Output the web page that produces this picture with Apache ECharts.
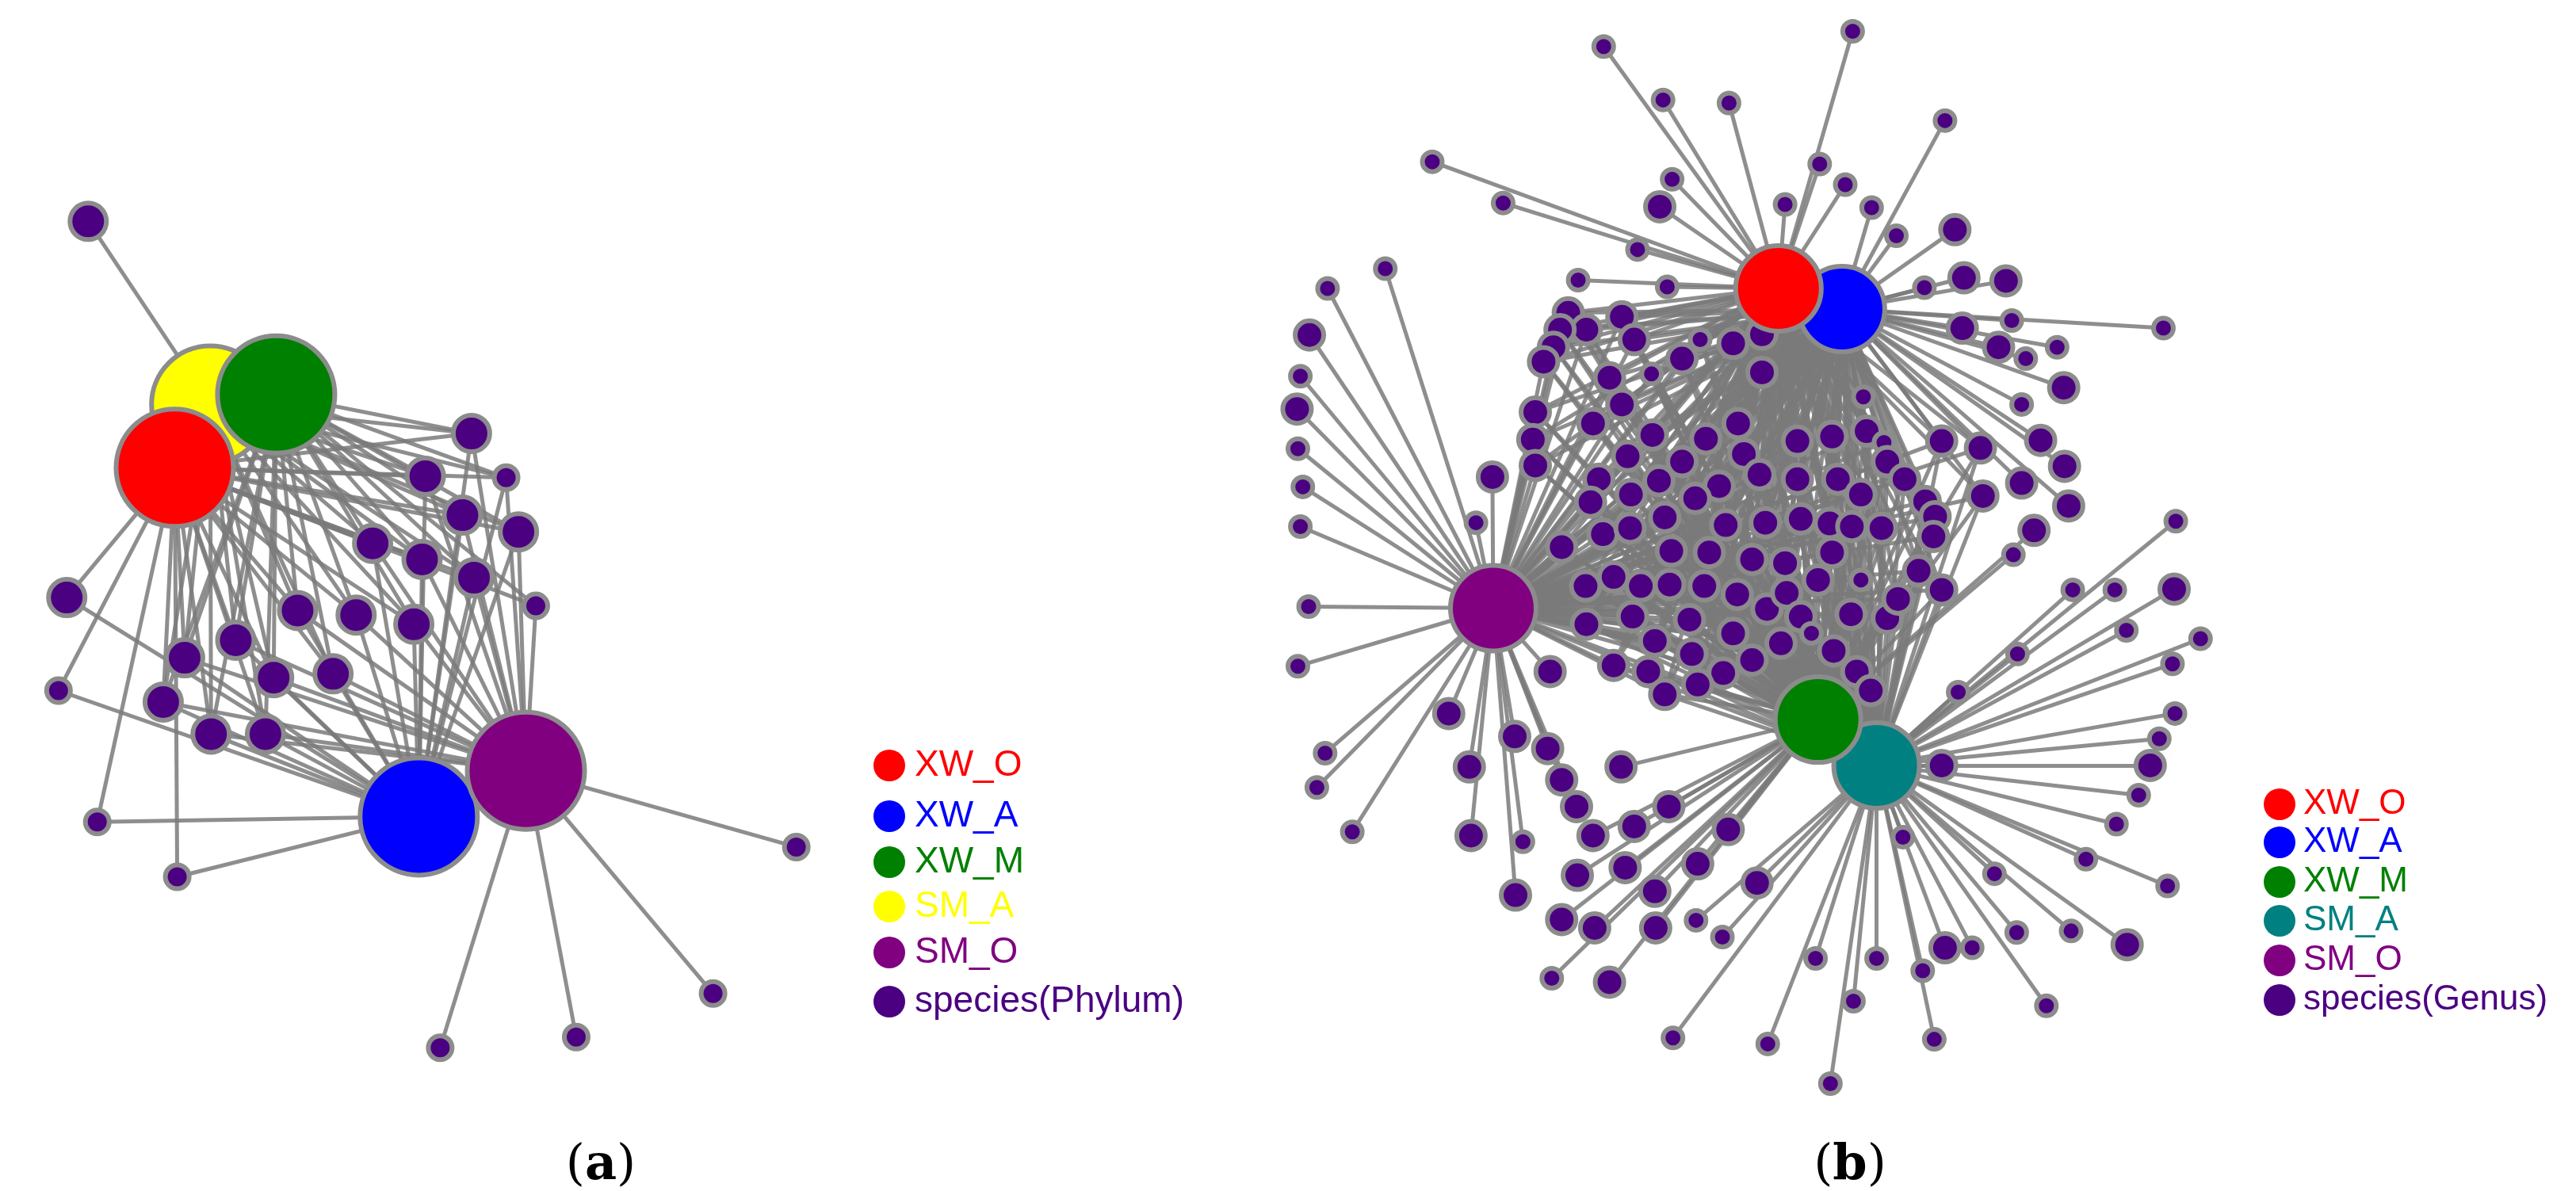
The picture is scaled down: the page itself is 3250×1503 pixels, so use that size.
<!DOCTYPE html>
<html>
<head>
<meta charset="utf-8">
<script src="https://cdn.jsdelivr.net/npm/echarts@6/dist/echarts.min.js"></script>
<style>html,body{margin:0;padding:0;background:#fff}#chart{width:3250px;height:1503px}</style>
</head>
<body>
<div id="chart"></div>
<script>
// 坐标按参考图读数（面板局部坐标），渲染时换算
const SCALE_X = 1.04;
const SCALE_Y = 0.963;
const OFFSET_B = 1625;

const speciesColor = '#4b0082';

// 面板(a) 中心节点 [name, x, y, key]
const hubsA = [
  ['SM_A', 255, 530, 'Y'],
  ['XW_M', 335, 517, 'G'],
  ['XW_O', 212, 613, 'R'],
  ['XW_A', 508, 1070, 'B'],
  ['SM_O', 638, 1010, 'P']
];
// 面板(a) 物种节点 [x, y, big, 连接的中心]
const speciesA = [
  [107, 290, 1, 'Y'], [572, 568, 1, 'YGRBP'], [614, 626, 0, 'YGRBP'], [516, 624, 1, 'YGRBP'],
  [561, 675, 1, 'YGRBP'], [629, 697, 1, 'YGRBP'], [452, 712, 1, 'YGRBP'], [512, 733, 1, 'YGRBP'],
  [575, 757, 1, 'YGRBP'], [650, 794, 0, 'GRP'], [81, 783, 1, 'RB'], [361, 800, 1, 'YGRBP'],
  [432, 806, 1, 'YGRBP'], [502, 818, 1, 'YGRBP'], [286, 839, 1, 'YGRBP'], [224, 862, 1, 'YGRBP'],
  [71, 905, 0, 'RB'], [332, 888, 1, 'YGRBP'], [404, 883, 1, 'YGRBP'], [198, 920, 1, 'YGRBP'],
  [256, 962, 1, 'YGRBP'], [322, 962, 1, 'YGRBP'], [118, 1077, 0, 'RB'], [215, 1149, 0, 'RB'],
  [966, 1110, 0, 'P'], [865, 1302, 0, 'P'], [699, 1359, 0, 'P'], [534, 1373, 0, 'P']
];

// 面板(b) 中心节点
const hubsB = [
  ['XW_A', 672, 405, 'B'],
  ['XW_O', 595, 378, 'R'],
  ['SM_A', 714, 1003, 'T'],
  ['XW_M', 643, 943, 'G'],
  ['SM_O', 249, 797, 'P']
];
// 面板(b) 外围物种 [x, y, big]
const outerB = [
  [383,61,0],[685,41,0],[455,131,0],[535,135,0],[797,158,0],[175,212,0],[645,215,0],[466,235,0],
  [676,242,0],[261,266,0],[451,271,1],[603,268,0],[708,272,0],[809,301,1],[738,309,0],[424,327,0],
  [118,352,0],[48,378,0],[352,367,0],[460,376,0],[772,377,0],[820,364,1],[871,368,1],[1062,430,0],
  [878,420,0],[818,430,1],[933,455,0],[862,455,1],[895,470,0],[26,439,1],[15,493,0],[11,536,1],
  [12,588,0],[18,638,0],[15,690,0],[25,795,0],[12,873,0],[45,987,0],[35,1032,0],[78,1090,0],
  [941,508,1],[890,530,0],[913,577,1],[942,611,1],[947,663,1],[890,633,1],[905,695,1],[880,727,0],
  [1077,683,0],[1075,772,1],[1107,837,0],[1003,773,0],[952,773,0],[1017,826,0],[1073,870,0],[885,857,0],
  [813,907,0],[1076,935,0],[1057,968,0],[1046,1003,1],[1032,1042,0],[1005,1080,0],[968,1126,0],[1067,1161,0],
  [857,1145,0],[1018,1238,1],[950,1220,0],[884,1222,0],[920,1318,0],[830,1242,0],[797,1242,1],[770,1272,0],
  [784,1362,0],[714,1256,0],[686,1312,0],[640,1256,0],[658,1420,0],[582,1368,0],[467,1360,0],[746,1097,0],
  [793,1003,1],[569,1157,1],[534,1087,1],[497,1132,1],[527,1228,0],[495,1206,0],[446,1216,1],[445,1168,1],
  [409,1137,1],[420,1083,1],[462,1057,1],[404,1005,1],[372,1216,1],[332,1205,1],[390,1287,1],[320,1282,0],
  [276,1173,1],[351,1147,1],[370,1095,1],[350,1057,1],[332,1022,1],[315,981,1],[275,965,1],[285,1103,0],
  [222,1095,1],[220,1005,1],[195,935,1],[318,880,1],[248,625,1],[228,685,0]
];
// 面板(b) 内部物种 [x, y, big]
const innerB = [
  [340,410,1],[362,432,1],[330,432,1],[322,455,1],[310,474,1],[405,415,1],[420,445,1],[478,470,1],
  [540,450,1],[575,488,1],[441,490,0],[390,495,1],[405,530,1],[300,540,1],[370,555,1],[297,576,1],
  [300,610,1],[442,570,1],[507,575,1],[546,555,1],[618,578,1],[660,572,1],[702,565,1],[723,580,0],
  [553,595,1],[478,605,1],[412,598,1],[377,628,1],[450,630,1],[523,637,1],[572,622,1],[618,628,1],
  [667,628,1],[727,605,1],[748,628,1],[793,578,1],[840,587,1],[773,657,1],[785,677,1],[695,648,1],
  [494,653,1],[416,648,1],[367,658,1],[457,678,1],[531,688,1],[579,685,1],[622,680,1],[657,686,1],
  [684,690,1],[720,692,1],[783,703,1],[332,717,1],[382,700,1],[415,692,1],[465,722,1],[511,724,1],
  [563,733,1],[603,738,1],[660,724,1],[695,760,0],[643,760,1],[765,748,1],[361,768,1],[395,756,1],
  [428,768,1],[463,766,1],[505,768,1],[545,779,1],[581,798,1],[605,777,1],[622,808,1],[683,805,1],
  [727,810,1],[740,785,1],[793,773,1],[362,818,1],[418,808,1],[487,812,1],[540,830,1],[598,843,1],
  [635,830,0],[662,853,1],[395,872,1],[437,880,1],[445,840,1],[490,857,1],[528,882,1],[563,865,1],
  [497,897,1],[457,910,1],[690,880,1],[707,905,1],[843,650,1],[575,438,1],[500,445,0],[698,520,0]
];

const legendA = [['XW_O', '#ff0000'], ['XW_A', '#0000ff'], ['XW_M', '#008000'], ['SM_A', '#ffff00'], ['SM_O', '#800080'], ['species(Phylum)', speciesColor]];
const legendB = [['XW_O', '#ff0000'], ['XW_A', '#0000ff'], ['XW_M', '#008000'], ['SM_A', '#008080'], ['SM_O', '#800080'], ['species(Genus)', speciesColor]];

const keyColor = { R: '#ff0000', B: '#0000ff', G: '#008000', Y: '#ffff00', T: '#008080', P: '#800080' };

function speciesNode(x, y, size, off) {
  return {
    value: [off + x * SCALE_X, y * SCALE_Y],
    symbolSize: size,
    itemStyle: { color: speciesColor, borderColor: '#8c8c8c', borderWidth: 6 }
  };
}
function hubNode(h, off, size) {
  return {
    name: h[0],
    value: [off + h[1] * SCALE_X, h[2] * SCALE_Y],
    symbolSize: size,
    itemStyle: { color: keyColor[h[3]], borderColor: '#8c8c8c', borderWidth: 6 }
  };
}

// 面板(a)
let nodesA = [], linksA = [];
speciesA.forEach(function (s) { nodesA.push(speciesNode(s[0], s[1], s[2] ? 46 : 30, 0)); });
hubsA.forEach(function (h) { nodesA.push(hubNode(h, 0, 148)); });
speciesA.forEach(function (s, i) {
  s[3].split('').forEach(function (k) {
    let hi = hubsA.findIndex(function (h) { return h[3] === k; });
    linksA.push({ source: i, target: speciesA.length + hi });
  });
});

// 面板(b)
let nodesB = [], linksB = [];
let allB = innerB.concat(outerB);
allB.forEach(function (s) { nodesB.push(speciesNode(s[0], s[1], s[2] ? 36 : 25, OFFSET_B)); });
hubsB.forEach(function (h) { nodesB.push(hubNode(h, OFFSET_B, 108)); });
innerB.forEach(function (s, i) {
  hubsB.forEach(function (h, hi) { linksB.push({ source: i, target: allB.length + hi }); });
});
outerB.forEach(function (s, j) {
  let best = 0, bd = Infinity;
  hubsB.forEach(function (h, hi) {
    let d = (h[1] - s[0]) * (h[1] - s[0]) + (h[2] - s[1]) * (h[2] - s[1]);
    if (d < bd) { bd = d; best = hi; }
  });
  linksB.push({ source: innerB.length + j, target: allB.length + best });
});

function legendGraphics(items, cx, tx, ys, size) {
  let g = [];
  items.forEach(function (it, i) {
    g.push({ type: 'circle', shape: { cx: cx, cy: ys[i], r: 20 }, style: { fill: it[1] } });
    g.push({ type: 'text', x: tx, y: ys[i], style: { text: it[0], fill: it[1], font: size + 'px "Liberation Sans"', verticalAlign: 'middle' } });
  });
  return g;
}

let graphics = []
  .concat(legendGraphics(legendA, 1122, 1154, [966, 1030, 1088, 1144, 1202, 1264], 46))
  .concat(legendGraphics(legendB, 2876, 2906, [1015, 1063, 1113, 1162, 1212, 1262], 44));
graphics.push({
  type: 'text', x: 758, y: 1472,
  style: { text: '({b|a})', fill: '#000', font: '62px "DejaVu Serif"', align: 'center', verticalAlign: 'middle',
    rich: { b: { font: 'bold 62px "DejaVu Serif"', fill: '#000' } } }
});
graphics.push({
  type: 'text', x: 2334, y: 1472,
  style: { text: '({b|b})', fill: '#000', font: '62px "DejaVu Serif"', align: 'center', verticalAlign: 'middle',
    rich: { b: { font: 'bold 62px "DejaVu Serif"', fill: '#000' } } }
});

const lineStyle = { color: '#7a7a7a', width: 5, opacity: 0.85, curveness: 0 };

let chart = echarts.init(document.getElementById('chart'));
chart.setOption({
  backgroundColor: '#fff',
  animation: false,
  grid: { left: 0, right: 0, top: 0, bottom: 0 },
  xAxis: { type: 'value', min: 0, max: 3250, show: false },
  yAxis: { type: 'value', min: 0, max: 1503, inverse: true, show: false },
  graphic: graphics,
  series: [
    { type: 'graph', coordinateSystem: 'cartesian2d', layout: 'none', symbol: 'circle',
      data: nodesA, links: linksA, lineStyle: lineStyle, label: { show: false }, emphasis: { disabled: true } },
    { type: 'graph', coordinateSystem: 'cartesian2d', layout: 'none', symbol: 'circle',
      data: nodesB, links: linksB, lineStyle: lineStyle, label: { show: false }, emphasis: { disabled: true } }
  ]
});
</script>
</body>
</html>
